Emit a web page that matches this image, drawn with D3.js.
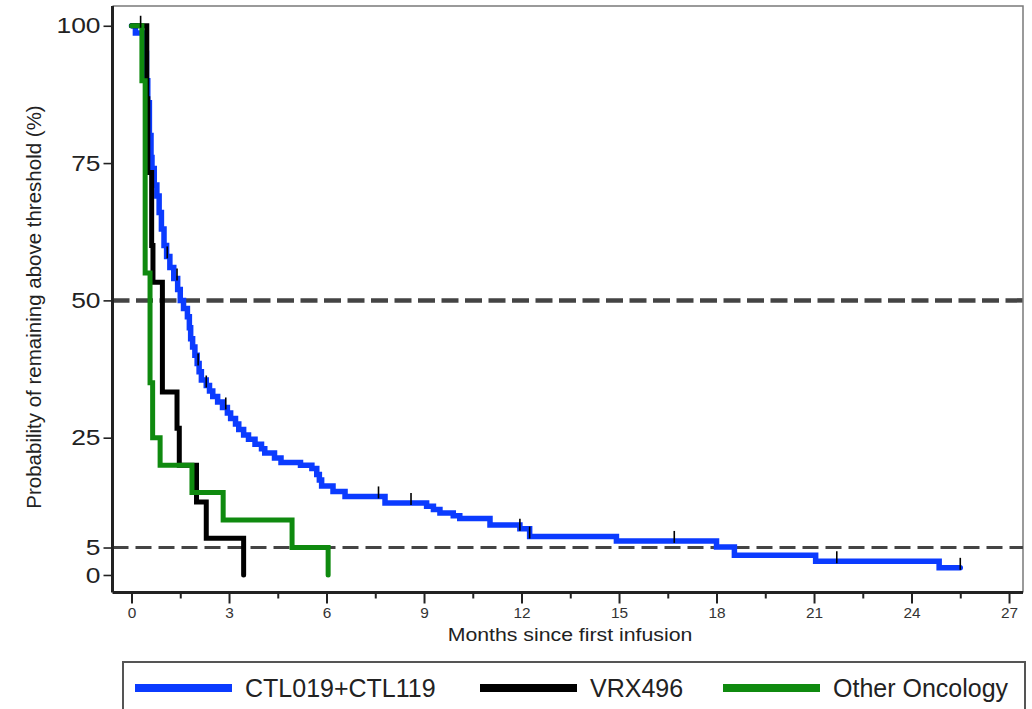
<!DOCTYPE html>
<html>
<head>
<meta charset="utf-8">
<script src="https://cdn.jsdelivr.net/npm/d3@7"></script>
<style>
  html, body { margin: 0; padding: 0; background: #fff; }
  svg { display: block; font-family: "Liberation Sans", Arial, sans-serif; }
</style>
</head>
<body>
<svg id="chart" width="1032" height="709"></svg>
<script>
// ---------------- data ----------------
const seriesNames = ["CTL019+CTL119", "VRX496", "Other Oncology"];

const blueTimes = [0, 0.12, 0.42, 0.46, 0.5, 0.55, 0.6, 0.63, 0.7, 0.78, 0.85, 0.92, 1.0, 1.08, 1.18, 1.3, 1.42, 1.5, 1.6, 1.72, 1.78, 1.82, 1.88, 1.95, 2.02, 2.08, 2.15, 2.3, 2.4, 2.5, 2.65, 2.8, 2.95, 3.05, 3.2, 3.3, 3.45, 3.6, 3.8, 4.0, 4.1, 4.4, 4.6, 5.2, 5.55, 5.7, 5.78, 5.85, 6.2, 6.57, 7.8, 9.08, 9.29, 9.49, 9.9, 10.1, 11.03, 11.95, 12.25, 14.92, 18.0, 18.55, 21.05, 24.85, 25.5];
const blueSurv  = [100, 98.7, 95, 90, 86, 80, 76, 74, 71, 69, 66, 63, 60, 58, 56, 54, 52, 50, 48.5, 47, 45, 43, 41.5, 40, 38.5, 37, 35.5, 34.5, 33.5, 32.5, 31.5, 30.5, 29.5, 28.5, 27.5, 26.5, 25.5, 24.7, 23.8, 23, 22.2, 21.3, 20.5, 20, 19.4, 18.3, 17.3, 16.2, 15.2, 14.3, 13.1, 12.5, 11.9, 11.3, 10.8, 10.3, 9.1, 8.4, 7.0, 6.2, 5.1, 3.6, 2.5, 1.3, 1.3];
const blueCensor = [1.1, 1.4, 2.05, 2.3, 2.9, 7.6, 8.6, 11.95, 12.25, 16.7, 21.7, 25.5];

const blackTimes = [0, 0.47, 0.5, 0.62, 0.66, 0.95, 1.4, 1.47, 2.0, 2.3, 3.45];
const blackSurv  = [100, 86.7, 73.3, 60, 53.3, 33.3, 26.7, 20, 13.3, 6.7, 0];
const blackCensor = [0.28];

const greenTimes = [0, 0.32, 0.42, 0.57, 0.65, 0.88, 1.86, 2.82, 4.94, 6.05];
const greenSurv  = [100, 90, 55, 35, 25, 20, 15, 10, 5, 0];

const yTickValues = [0, 5, 25, 50, 75, 100];
const xMajorTicks = [0, 3, 6, 9, 12, 15, 18, 21, 24, 27];
const refLines = [50, 5];
const colors = ["#0b3bff", "#000000", "#0f8a0f"];

// ---------------- layout ----------------
const svg = d3.select("#chart");
const pL = 112.5, pR = 1023, pT = 6, pB = 592.5;

const x = d3.scaleLinear().domain([-0.585, 27.43]).range([pL, pR]);
const y = d3.scaleLinear().domain([-3.19, 103.6]).range([pB, pT]);

// frame (top / right)
svg.append("path")
  .attr("d", `M${pL},${pT}H${pR}V${pB}`)
  .attr("fill", "none").attr("stroke", "#7a7a7a").attr("stroke-width", 1.5);

// reference lines
svg.append("line")
  .attr("x1", pL).attr("x2", pR)
  .attr("y1", y(refLines[0])).attr("y2", y(refLines[0]))
  .attr("stroke", "#444").attr("stroke-width", 4.5).attr("stroke-dasharray", "17,6.5");
svg.append("line")
  .attr("x1", pL).attr("x2", pR)
  .attr("y1", y(refLines[1])).attr("y2", y(refLines[1]))
  .attr("stroke", "#444").attr("stroke-width", 3).attr("stroke-dasharray", "16,7");

// curves
const line = d3.line().x(d => x(d[0])).y(d => y(d[1])).curve(d3.curveStepAfter);
function stepValue(times, surv, t) {
  let v = surv[0];
  for (let i = 0; i < times.length; i++) { if (times[i] <= t) v = surv[i]; }
  return v;
}
const series = [
  { times: blueTimes, surv: blueSurv, censor: blueCensor, color: colors[0], w: 5.5 },
  { times: blackTimes, surv: blackSurv, censor: blackCensor, color: colors[1], w: 5 },
  { times: greenTimes, surv: greenSurv, censor: [], color: colors[2], w: 5 }
];
series.forEach(s => {
  const pts = s.times.map((t, i) => [t, s.surv[i]]);
  svg.append("path")
    .attr("d", line(pts))
    .attr("fill", "none")
    .attr("stroke", s.color)
    .attr("stroke-width", s.w)
    .attr("stroke-linejoin", "miter")
    .attr("stroke-linecap", "round");
});
// censor ticks
series.forEach(s => {
  s.censor.forEach(t => {
    const v = stepValue(s.times, s.surv, t);
    svg.append("line")
      .attr("x1", x(t)).attr("x2", x(t))
      .attr("y1", y(v) - 10).attr("y2", y(v) + 2)
      .attr("stroke", "#000").attr("stroke-width", 1.6);
  });
});

// y axis
const yAxis = d3.axisLeft(y).tickValues(yTickValues).tickSize(9).tickPadding(5).tickFormat(d3.format("d"));
const gy = svg.append("g").attr("transform", `translate(${pL},0)`).call(yAxis);
gy.select(".domain").attr("stroke", "#222").attr("stroke-width", 3).attr("d", `M0,${pT}V${pB}`);
gy.selectAll(".tick line").attr("stroke", "#222").attr("stroke-width", 1.6);
gy.selectAll(".tick text")
  .attr("font-size", 22).attr("fill", "#222")
  .attr("x", 0)
  .attr("transform", "translate(-12,0) scale(1.2,1)");

// x axis
const xAll = d3.range(0, 27.01, 1.5);
const xAxis = d3.axisBottom(x).tickValues(xAll).tickSize(11).tickPadding(5)
  .tickFormat(d => xMajorTicks.includes(d) ? d3.format("d")(d) : "");
const gx = svg.append("g").attr("transform", `translate(0,${pB})`).call(xAxis);
gx.select(".domain").attr("stroke", "#222").attr("stroke-width", 3).attr("d", `M${pL},0H${pR}`);
gx.selectAll(".tick line")
  .attr("stroke", "#222").attr("stroke-width", 2)
  .attr("y2", d => xMajorTicks.includes(d) ? 11 : 6);
gx.selectAll(".tick text")
  .attr("font-size", 14).attr("fill", "#333")
  .attr("transform", "scale(1.1,1)");

// axis titles
svg.append("text")
  .attr("transform", `translate(570,641) scale(1.15,1)`)
  .attr("text-anchor", "middle")
  .attr("font-size", 18.5).attr("fill", "#222")
  .text("Months since first infusion");
svg.append("text")
  .attr("transform", `translate(41,307) rotate(-90)`)
  .attr("text-anchor", "middle")
  .attr("font-size", 20.5).attr("fill", "#222")
  .text("Probability of remaining above threshold (%)");

// legend
svg.append("rect")
  .attr("x", 123).attr("y", 662).attr("width", 902).attr("height", 80)
  .attr("fill", "none").attr("stroke", "#555").attr("stroke-width", 2);
const legendX = [135, 480, 723];
seriesNames.forEach((name, i) => {
  svg.append("line")
    .attr("x1", legendX[i]).attr("x2", legendX[i] + 97)
    .attr("y1", 688).attr("y2", 688)
    .attr("stroke", colors[i]).attr("stroke-width", 8);
  svg.append("text")
    .attr("x", legendX[i] + 110).attr("y", 697)
    .attr("font-size", 25).attr("fill", "#222")
    .text(name);
});
</script>
</body>
</html>
